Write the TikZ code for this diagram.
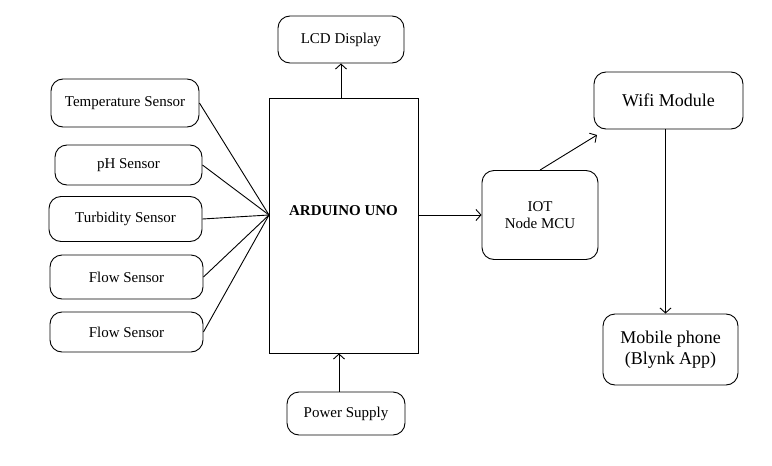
\documentclass[tikz,border=0pt]{standalone}
\usepackage{fontspec}
\setmainfont{Liberation Serif}
\usetikzlibrary{arrows.meta}
\definecolor{lineBlack}{RGB}{0, 0, 0}

\begin{document}
\begin{tikzpicture}[x=1pt, y=-1pt, line width=0.9pt,
    blockbox/.style={draw=lineBlack, rounded corners=12pt, inner sep=0pt, align=center,
      font=\fontsize{15}{17}\selectfont},
    bigbox/.style={blockbox, font=\fontsize{18}{21}\selectfont},
    mcubox/.style={draw=lineBlack, inner sep=0pt},
    arr/.style={-{Straight Barb[length=5pt, width=11pt]}}]
        \useasboundingbox (0,0) rectangle (772,466);
        % sensors on the left
        \node[blockbox, minimum width=148pt, minimum height=48pt] (temp) at (125,103) {Temperature Sensor};
        \node[blockbox, minimum width=147pt, minimum height=40pt] (ph) at (128.5,165) {pH Sensor};
        \node[blockbox, minimum width=153pt, minimum height=45pt] (turb) at (125.5,219) {Turbidity Sensor};
        \node[blockbox, minimum width=153pt, minimum height=44pt] (flowa) at (126.5,277) {Flow Sensor};
        \node[blockbox, minimum width=153pt, minimum height=40pt] (flowb) at (126.5,332) {Flow Sensor};
        % controller
        \node[mcubox, minimum width=149pt, minimum height=255pt,
          label={[font=\fontsize{15}{17}\bfseries\selectfont, yshift=14.5pt]center:ARDUINO UNO}] (uno) at (343.5,225.5) {};
        \coordinate (meet) at (269,215);
        \node[blockbox, minimum width=126pt, minimum height=47pt] (lcd) at (341,39.5) {LCD Display};
        \node[blockbox, minimum width=118pt, minimum height=43pt] (pwr) at (346,413.5) {Power Supply};
        % iot side
        \node[blockbox, minimum width=116pt, minimum height=89pt] (iot) at (540,215) {IOT\\ Node MCU};
        \node[bigbox, minimum width=149pt, minimum height=57pt] (wifi) at (668.5,100.5) {Wifi Module};
        \node[bigbox, minimum width=135pt, minimum height=71pt] (mob) at (670.5,349.5) {Mobile phone\\(Blynk App)};
        \coordinate (wifiin) at (597,135);
        % connections
        \foreach \s in {temp, ph, turb, flowa, flowb}
          \draw (\s.east) -- (meet);
        \draw[arr] (lcd.south |- uno.north) -- (lcd.south);
        \draw[arr] ([xshift=-7pt]pwr.north) -- ([xshift=-7pt]pwr.north |- uno.south);
        \draw[arr] (uno.east |- iot.west) -- (iot.west);
        \draw[arr] (iot.north) -- (wifiin);
        \draw[arr] ([xshift=-3pt]wifi.south) -- ([xshift=-3pt]wifi.south |- mob.north);
      \end{tikzpicture}
\end{document}
